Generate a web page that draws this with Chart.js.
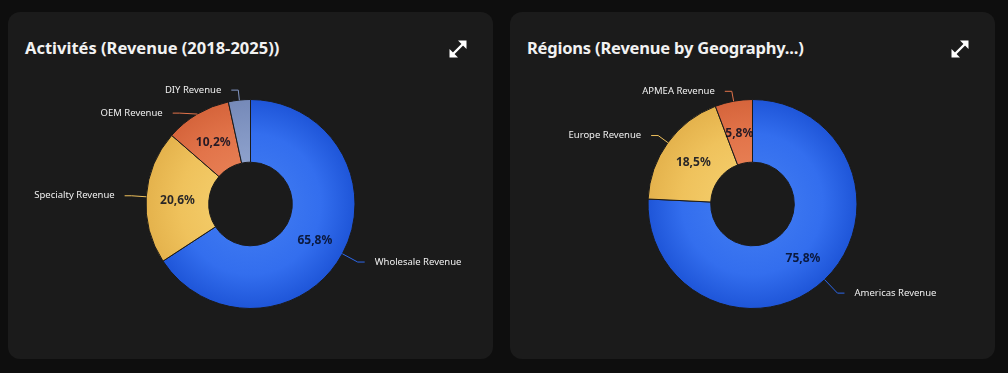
<!DOCTYPE html>
<html>
<head>
<meta charset="utf-8">
<script src="https://cdn.jsdelivr.net/npm/chart.js@4/dist/chart.umd.min.js"></script>
<style>
  html, body { margin: 0; padding: 0; background: #0e0e0e; }
  body { width: 1008px; height: 373px; position: relative; overflow: hidden; font-family: "Noto Sans", sans-serif; }
  .card { position: absolute; top: 12px; width: 485px; height: 347px; background: #1b1b1b; border-radius: 12px; }
  .title { position: absolute; left: 17px; top: 24px; line-height: 24px; font-size: 16.5px; font-weight: 700; color: #f2f2f2; white-space: nowrap; }
  .expand { position: absolute; left: 440px; top: 27px; width: 20px; height: 20px; }
  .chart-box { position: absolute; left: 0; top: 66px; width: 485px; height: 252px; }
</style>
</head>
<body>
<div class="card" style="left:8px">
  <div class="title">Activités (Revenue (2018-2025))</div>
  <svg class="expand" viewBox="0 0 20 20"><line x1="4.5" y1="15.5" x2="15.5" y2="4.5" stroke="#fff" stroke-width="2.4"/><polygon points="10,1.5 18.5,1.5 18.5,10" fill="#fff"/><polygon points="1.5,10 1.5,18.5 10,18.5" fill="#fff"/></svg>
  <div class="chart-box"><canvas id="activites"></canvas></div>
</div>
<div class="card" style="left:510px">
  <div class="title" style="letter-spacing:-0.2px">Régions (Revenue by Geography...)</div>
  <svg class="expand" viewBox="0 0 20 20"><line x1="4.5" y1="15.5" x2="15.5" y2="4.5" stroke="#fff" stroke-width="2.4"/><polygon points="10,1.5 18.5,1.5 18.5,10" fill="#fff"/><polygon points="1.5,10 1.5,18.5 10,18.5" fill="#fff"/></svg>
  <div class="chart-box"><canvas id="regions"></canvas></div>
</div>
<script>
const activityLabels = ['Wholesale Revenue', 'Specialty Revenue', 'OEM Revenue', 'DIY Revenue'];
const activityValues = [65.8, 20.6, 10.2, 3.4];
const activityColors = ['#2d68ea', '#efc15c', '#e2734a', '#8397c4'];

const regionLabels = ['Americas Revenue', 'Europe Revenue', 'APMEA Revenue'];
const regionValues = [75.76, 18.46, 5.78];
const regionColors = ['#2d68ea', '#efc15c', '#e2734a'];

// dégradé radial : plus clair au milieu de l'anneau, plus sombre vers l'extérieur
const shades = {
    '#2d68ea': ['#3a75f0', '#336eee', '#1e55d8'],
    '#efc15c': ['#f2c965', '#efc25c', '#e4b24c'],
    '#e2734a': ['#e67d52', '#e2744a', '#d5643b'],
    '#8397c4': ['#8da1cc', '#8397c4', '#7589b8'],
};

function ringFill(colors) {
    return (context) => {
        const base = colors[context.dataIndex];
        const chart = context.chart;
        const area = chart.chartArea;
        if (!area || !shades[base]) return base;
        const cx = (area.left + area.right) / 2;
        const cy = (area.top + area.bottom) / 2;
        const r = Math.min(area.right - area.left, area.bottom - area.top) / 2;
        const s = shades[base];
        const g = chart.ctx.createRadialGradient(cx, cy, r * 0.4, cx, cy, r);
        g.addColorStop(0, s[0]);
        g.addColorStop(0.45, s[1]);
        g.addColorStop(1, s[2]);
        return g;
    };
}

const fmtPct = (v) => v.toFixed(1).replace('.', ',') + '%';

const donutLabels = {
    id: 'donutLabels',
    afterDatasetsDraw(chart) {
        const ctx = chart.ctx;
        const meta = chart.getDatasetMeta(0);
        const ds = chart.data.datasets[0];
        const total = ds.data.reduce((a, b) => a + b, 0);
        const outside = [];
        meta.data.forEach((arc, i) => {
            const p = arc.getProps(['x', 'y', 'startAngle', 'endAngle', 'innerRadius', 'outerRadius'], true);
            const mid = (p.startAngle + p.endAngle) / 2;
            const dx = Math.cos(mid), dy = Math.sin(mid);
            const pct = ds.data[i] / total * 100;
            // pourcentage à l'intérieur
            if (pct >= 5) {
                const rm = (p.innerRadius + p.outerRadius) / 2;
                ctx.save();
                ctx.font = 'bold 12px "Noto Sans"';
                ctx.fillStyle = 'rgba(5,10,30,0.85)';
                ctx.textAlign = 'center';
                ctx.textBaseline = 'middle';
                ctx.fillText(fmtPct(pct), p.x + rm * dx, p.y + rm * dy + 2);
                ctx.restore();
            }
            // trait de rappel un peu plus long vers le bas
            const r1 = p.outerRadius + 15 + 5 * dy;
            outside.push({
                i, cx: p.x, cy: p.y, r1,
                side: dx >= 0 ? 1 : -1,
                x0: p.x + p.outerRadius * dx, y0: p.y + p.outerRadius * dy,
                x1: p.x + r1 * dx, y1: p.y + r1 * dy,
            });
        });
        // éviter le chevauchement des étiquettes d'un même côté
        [1, -1].forEach((side) => {
            const list = outside.filter((o) => o.side === side).sort((a, b) => a.y1 - b.y1);
            for (let k = 1; k < list.length; k++) {
                const prev = list[k - 1], cur = list[k];
                if (cur.y1 < prev.y1 + 23) {
                    cur.y1 = prev.y1 + 23;
                    const d = cur.y1 - cur.cy;
                    cur.x1 = cur.cx + side * Math.sqrt(Math.max(0, cur.r1 * cur.r1 - d * d));
                }
            }
        });
        outside.forEach((o) => {
            const x2 = o.x1 + o.side * 7;
            ctx.save();
            ctx.strokeStyle = ds.lineColors[o.i];
            ctx.lineWidth = 1;
            ctx.beginPath();
            ctx.moveTo(o.x0, o.y0);
            ctx.lineTo(o.x1, o.y1);
            ctx.lineTo(x2, o.y1);
            ctx.stroke();
            ctx.font = '9.5px "Noto Sans"';
            ctx.fillStyle = '#f0f0f0';
            ctx.textAlign = o.side > 0 ? 'left' : 'right';
            ctx.textBaseline = 'middle';
            ctx.fillText(chart.data.labels[o.i], x2 + o.side * 10, o.y1);
            ctx.restore();
        });
    },
};

function makeDonut(id, labels, values, colors) {
    return new Chart(document.getElementById(id), {
        type: 'doughnut',
        data: {
            labels: labels,
            datasets: [{
                data: values,
                backgroundColor: ringFill(colors),
                lineColors: colors,
                borderColor: '#1b1b1b',
                borderWidth: 1,
            }],
        },
        options: {
            responsive: true,
            maintainAspectRatio: false,
            animation: false,
            cutout: '40%',
            layout: { padding: 21 },
            plugins: {
                legend: { display: false },
                tooltip: { enabled: false },
            },
        },
        plugins: [donutLabels],
    });
}

makeDonut('activites', activityLabels, activityValues, activityColors);
makeDonut('regions', regionLabels, regionValues, regionColors);
</script>
</body>
</html>
